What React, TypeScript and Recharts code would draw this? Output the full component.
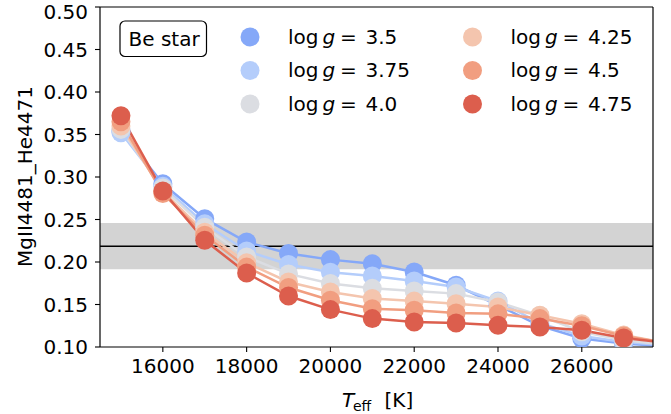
import React from 'react';
import { LineChart, Line, XAxis, YAxis, ReferenceArea, ReferenceLine } from 'recharts';

const teff = [15000, 16000, 17000, 18000, 19000, 20000, 21000, 22000, 23000, 24000, 25000, 26000, 27000, 28000];
const logg350 = [0.354, 0.292, 0.251, 0.2235, 0.210, 0.2028, 0.198, 0.1882, 0.1726, 0.149, 0.125, 0.110, 0.104, 0.101];
const logg375 = [0.352, 0.289, 0.245, 0.213, 0.197, 0.188, 0.1835, 0.1777, 0.1706, 0.154, 0.128, 0.113, 0.106, 0.102];
const logg400 = [0.356, 0.287, 0.241, 0.206, 0.186, 0.1746, 0.169, 0.166, 0.1628, 0.153, 0.137, 0.118, 0.108, 0.103];
const logg425 = [0.360, 0.283, 0.235, 0.199, 0.1765, 0.1647, 0.157, 0.154, 0.151, 0.147, 0.1373, 0.1275, 0.114, 0.105];
const logg450 = [0.365, 0.2805, 0.2315, 0.194, 0.170, 0.155, 0.145, 0.1432, 0.140, 0.139, 0.1334, 0.125, 0.113, 0.105];
const logg475 = [0.372, 0.2835, 0.2255, 0.187, 0.160, 0.144, 0.1334, 0.1294, 0.1282, 0.1256, 0.1235, 0.1196, 0.1106, 0.105];

const seriesLabels = ['3.5', '3.75', '4.0', '4.25', '4.5', '4.75'];
const seriesKeys = ['g350', 'g375', 'g400', 'g425', 'g450', 'g475'];
const seriesValues = [logg350, logg375, logg400, logg425, logg450, logg475];
const seriesColors = ['#85a8f8', '#b4cdfb', '#dbdde2', '#f4c5ae', '#f19e80', '#dc5e4d'];

const xTicks = [16000, 18000, 20000, 22000, 24000, 26000];
const yTicks = [0.1, 0.15, 0.2, 0.25, 0.3, 0.35, 0.4, 0.45, 0.5];
const xDomain = [14500, 27700];
const yDomain = [0.1, 0.5];
const bandLow = 0.1915;
const bandHigh = 0.246;
const observed = 0.2185;

const rows = teff.map((t, i) => {
  const r: Record<string, number> = { t };
  seriesKeys.forEach((k, j) => {
    r[k] = seriesValues[j][i];
  });
  return r;
});

const FONT = 'DejaVu Sans';

function LegendEntry({ cx, ty, tx, color, label }: { cx: number; ty: number; tx: number; color: string; label: string }) {
  return (
    <g>
      <circle cx={cx} cy={ty - 6.5} r={9.5} fill={color} />
      <text x={tx} y={ty} fontSize={20} fontFamily={FONT} fill="#000">log</text>
      <text x={tx + 34.5} y={ty} fontSize={20} fontFamily={FONT} fill="#000" fontStyle="italic">g</text>
      <text x={tx + 52} y={ty} fontSize={20} fontFamily={FONT} fill="#000">=</text>
      <text x={tx + 77.5} y={ty} fontSize={20} fontFamily={FONT} fill="#000">{label}</text>
    </g>
  );
}

export default function App() {
  const rowYs = [43.5, 77, 110.5];
  return (
    <div style={{ position: 'absolute', left: 0, top: 0, width: 671, height: 414, background: '#fff' }}>
      <LineChart
        width={671}
        height={414}
        data={rows}
        margin={{ top: 7, right: 18, bottom: 0, left: 0 }}
      >
        <ReferenceArea y1={bandLow} y2={bandHigh} fill="#d3d3d3" fillOpacity={1} stroke="none" />
        <ReferenceLine y={observed} stroke="#000" strokeWidth={1.5} />
        <XAxis
          type="number"
          dataKey="t"
          domain={xDomain}
          allowDataOverflow
          ticks={xTicks}
          height={67}
          tickSize={5}
          tickMargin={7}
          tick={{ fontSize: 20, fill: '#000', fontFamily: FONT }}
          tickLine={{ stroke: '#000', strokeWidth: 1.1 }}
          axisLine={{ stroke: '#000', strokeWidth: 1.2 }}
        />
        <YAxis
          type="number"
          domain={yDomain}
          allowDataOverflow
          ticks={yTicks}
          width={100}
          tickSize={5}
          tickMargin={7}
          tickFormatter={(v: number) => v.toFixed(2)}
          tick={{ fontSize: 20, fill: '#000', fontFamily: FONT }}
          tickLine={{ stroke: '#000', strokeWidth: 1.1 }}
          axisLine={{ stroke: '#000', strokeWidth: 1.2 }}
        />
        {seriesKeys.map((k, j) => (
          <Line
            key={k}
            dataKey={k}
            type="linear"
            stroke={seriesColors[j]}
            strokeWidth={2.5}
            dot={{ r: 9.5, fill: seriesColors[j], stroke: 'none', fillOpacity: 1 }}
            activeDot={false}
            isAnimationActive={false}
          />
        ))}
        <ReferenceLine y={0.5} stroke="#000" strokeWidth={1.2} />
        <ReferenceLine x={27700} stroke="#000" strokeWidth={1.2} />
      </LineChart>
      <svg
        width={671}
        height={414}
        style={{ position: 'absolute', left: 0, top: 0, pointerEvents: 'none' }}
      >
        <rect x={120} y={21} width={86.5} height={35.5} rx={5} ry={5} fill="#fff" stroke="#000" strokeWidth={1.2} />
        <text x={128.5} y={45.5} fontSize={20} fontFamily={FONT} fill="#000">Be star</text>
        {seriesLabels.map((lab, j) => {
          const col = j < 3 ? 0 : 1;
          const row = j % 3;
          return (
            <LegendEntry
              key={lab}
              cx={col === 0 ? 250 : 472.5}
              tx={col === 0 ? 288 : 510.5}
              ty={rowYs[row]}
              color={seriesColors[j]}
              label={lab}
            />
          );
        })}
        <text
          x={32}
          y={176.5}
          fontSize={20}
          fontFamily={FONT}
          fill="#000"
          textAnchor="middle"
          transform="rotate(-90, 32, 176.5)"
        >
          MgII4481_He4471
        </text>
        <text x={342} y={407} fontSize={20} fontFamily={FONT} fill="#000" fontStyle="italic">T</text>
        <text x={353} y={410.5} fontSize={14} fontFamily={FONT} fill="#000">eff</text>
        <text x={384.5} y={407} fontSize={20} fontFamily={FONT} fill="#000">[K]</text>
      </svg>
    </div>
  );
}
